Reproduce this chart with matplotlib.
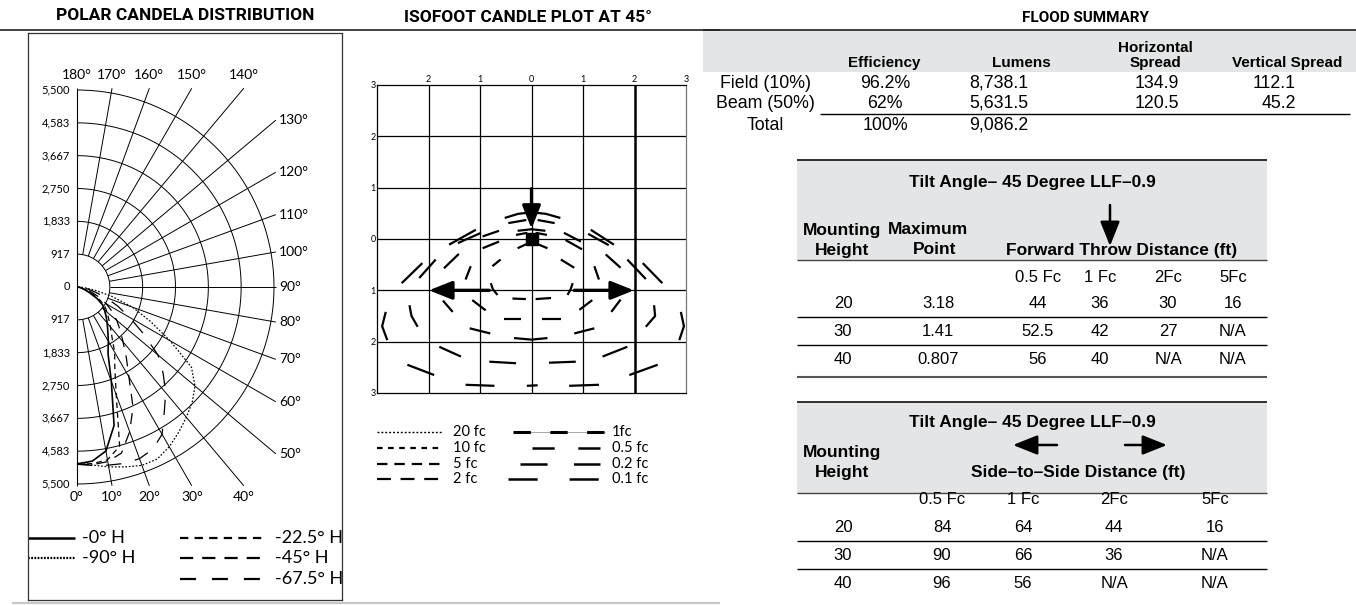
import numpy as np
import matplotlib.pyplot as plt
from matplotlib.patches import Rectangle

plt.rcParams['lines.scale_dashes'] = False
plt.rcParams['lines.solid_capstyle'] = 'butt'
plt.rcParams['lines.dash_capstyle'] = 'butt'

W, H = 1356, 605
LABEL_FONT = ['Lato', 'DejaVu Sans']
TABLE_FONT = ['Liberation Sans', 'DejaVu Sans']
HEAD_FONT = ['Roboto', 'Liberation Sans', 'DejaVu Sans']
GRAY = '#e4e5e6'

# ---------------- data ----------------
# polar candela distribution: vertical angle (deg) -> candela, per horizontal plane
vert_angle = [0, 5, 10, 15, 20, 25, 30, 35, 40, 45, 50, 55, 60, 65, 70, 75, 80, 85, 90]
cd_h0 = [4940, 4880, 4650, 4000, 2800, 2050, 1750, 1500, 1310, 1150, 1000, 880, 650, 400, 250, 150, 80, 40, 20]
cd_h22 = [4950, 4950, 4900, 4600, 3200, 2500, 2100, 1700, 1450, 1250, 1100, 950, 750, 500, 300, 180, 100, 50, 20]
cd_h45 = [4950, 4980, 4950, 4800, 4300, 3700, 2900, 2400, 2000, 1700, 1450, 1200, 950, 700, 450, 280, 150, 70, 30]
cd_h67 = [4950, 5000, 5050, 5100, 5100, 5000, 4750, 4250, 3850, 3400, 2950, 2250, 1700, 1250, 850, 500, 280, 120, 40]
cd_h90 = [4910, 4990, 5100, 5200, 5300, 5300, 5150, 4950, 4750, 4550, 4300, 3900, 3000, 2250, 1650, 1000, 500, 200, 60]
ring_cd = [917, 1833, 2750, 3667, 4583, 5500]
polar_angles = list(range(0, 181, 10))

# isofoot candle plot: pen strokes (x, y in mounting heights)
iso_strokes = [
    ([-0.52, -0.26, 0, 0.28, 0.56], [0.41, 0.49, 0.52, 0.49, 0.41]),
    ([-0.45, -0.1], [0.31, 0.37]), ([0.12, 0.45], [0.37, 0.31]),
    ([-0.27, 0, 0.27], [0.16, 0.19, 0.16]),
    ([-0.3, -0.08], [0.08, 0.12]), ([0.08, 0.3], [0.12, 0.08]),
    ([-0.27, -0.1], [-0.18, -0.1]), ([0.12, 0.31], [-0.1, -0.18]),
    ([-1.6, -1.08], [-0.11, 0.18]), ([-1.43, -0.98], [-0.08, 0.12]),
    ([-0.95, -0.63], [0.05, 0.16]), ([-0.95, -0.63], [-0.18, -0.05]),
    ([0.63, 0.96], [0.12, -0.05]), ([0.66, 0.98], [-0.02, -0.2]),
    ([1.15, 1.6], [0.18, -0.11]), ([1.1, 1.5], [0.1, -0.12]),
    ([-2.52, -2.12], [-0.86, -0.47]), ([-2.18, -1.86], [-0.76, -0.4]),
    ([-1.7, -1.41], [-0.57, -0.29]), ([-1.28, -1.18], [-0.79, -0.53]),
    ([-0.76, -0.6], [-0.53, -0.4]),
    ([0.57, 0.83], [-0.4, -0.56]), ([1.22, 1.31], [-0.53, -0.79]),
    ([1.44, 1.73], [-0.3, -0.56]), ([1.86, 2.22], [-0.4, -0.78]),
    ([2.16, 2.54], [-0.47, -0.86]),
    ([-0.79, -0.75, -0.66], [-0.86, -0.98, -1.09]), ([0.8, 0.76, 0.7], [-0.86, -0.98, -1.09]),
    ([-1.72, -1.53], [-1.2, -1.42]), ([-1.15, -0.89], [-1.19, -1.39]),
    ([0.93, 1.18], [-1.38, -1.19]), ([1.55, 1.73], [-1.42, -1.18]),
    ([-0.37, -0.11], [-1.16, -1.17]), ([0.08, 0.38], [-1.17, -1.15]),
    ([-0.53, -0.21], [-1.56, -1.56]), ([0.21, 0.57], [-1.56, -1.56]),
    ([-1.2, -0.8], [-1.74, -1.84]), ([0.83, 1.22], [-1.84, -1.74]),
    ([-0.34, 0, 0.31], [-1.93, -1.96, -1.93]),
    ([-1.79, -1.37], [-2.1, -2.29]), ([1.38, 1.86], [-2.29, -2.1]),
    ([-0.82, -0.3], [-2.39, -2.42]), ([0.34, 0.86], [-2.41, -2.39]),
    ([-2.41, -1.89], [-2.45, -2.65]), ([1.9, 2.45], [-2.65, -2.45]),
    ([-1.28, -0.72], [-2.84, -2.86]), ([-0.09, 0.12], [-2.86, -2.85]), ([0.73, 1.31], [-2.86, -2.84]),
    ([-2.83, -2.9, -2.8], [-1.42, -1.7, -1.97]), ([-2.37, -2.33, -2.21], [-1.29, -1.5, -1.71]),
    ([2.38, 2.4, 2.22], [-1.29, -1.5, -1.71]), ([2.9, 2.96, 2.87], [-1.42, -1.7, -1.97]),
]
iso_arrows = [((0, 0.98), (0, 0.2)), ((-0.82, -1.0), (-1.99, -1.0)), ((0.83, -1.0), (1.99, -1.0))]
aim_point = (0, 0)
iso_xticks = [-2, -1, 0, 1, 2, 3]
iso_yticks = [-3, -2, -1, 0, 1, 2, 3]
iso_levels_left = ['20 fc', '10 fc', '5 fc', '2 fc']
iso_levels_right = ['1fc', '0.5 fc', '0.2 fc', '0.1 fc']

# flood summary
flood_rows = ['Field (10%)', 'Beam (50%)', 'Total']
flood_eff = [96.2, 62, 100]
flood_lumens = [8738.1, 5631.5, 9086.2]
flood_hspread = [134.9, 120.5, None]
flood_vspread = [112.1, 45.2, None]

# tilt tables
mount_height = [20, 30, 40]
max_point = ['3.18', '1.41', '0.807']
fc_cols = ['0.5 Fc', '1 Fc', '2Fc', '5Fc']
forward_throw = [['44', '36', '30', '16'], ['52.5', '42', '27', 'N/A'], ['56', '40', 'N/A', 'N/A']]
side_to_side = [['84', '64', '44', '16'], ['90', '66', '36', 'N/A'], ['96', '56', 'N/A', 'N/A']]

# ---------------- figure ----------------
fig = plt.figure(figsize=(W / 100, H / 100), dpi=100)
ov = fig.add_axes([0, 0, 1, 1])
ov.set_xlim(0, W)
ov.set_ylim(H, 0)
ov.axis('off')


def box(x0, y0, x1, y1):
    return [x0 / W, 1 - y1 / H, (x1 - x0) / W, (y1 - y0) / H]


# titles and rules
ov.text(185, 16, 'POLAR CANDELA DISTRIBUTION', ha='center', va='center', fontsize=12.5,
        fontweight='bold', family=HEAD_FONT)
ov.text(528, 17, 'ISOFOOT CANDLE PLOT AT 45°', ha='center', va='center', fontsize=12.5,
        fontweight='bold', family=HEAD_FONT)
ov.text(1085, 18, 'FLOOD SUMMARY', ha='center', va='center', fontsize=11,
        fontweight='bold', family=HEAD_FONT)
ov.plot([0, 720], [29.5, 29.5], color='#222', lw=1.2)
ov.plot([12, 720], [603, 603], color='#c8c8c8', lw=1.6)

# ---------------- polar plot ----------------
CX, CY, RPX = 77, 287, 197
S = RPX / 5500.0
REACH = 5550
pax = fig.add_axes(box(28, 33, 342, 600))
pax.set_facecolor('none')
pax.set_xlim(-(CX - 28) / S, (342 - CX) / S)
pax.set_ylim(-(600 - CY) / S, (CY - 33) / S)
pax.set_xticks([])
pax.set_yticks([])
for sp in pax.spines.values():
    sp.set_linewidth(0.9)
    sp.set_color('#333')

t = np.linspace(0, np.pi, 240)
for r in ring_cd:
    pax.plot(r * np.sin(t), -r * np.cos(t), color='k', lw=0.7)
pax.plot([0, 0], [-ring_cd[-1], ring_cd[-1]], color='k', lw=0.8)
for a in polar_angles:
    ar = np.radians(a)
    sx, sy = np.sin(ar), -np.cos(ar)
    reach = REACH / max(abs(sx), abs(sy))
    pax.plot([ring_cd[0] * sx, reach * sx], [ring_cd[0] * sy, reach * sy], color='k', lw=0.7)
    lab = f'{a}°'
    if a >= 140:
        pax.text(reach * sx, 5920, lab, ha='center', va='center', fontsize=10, family=LABEL_FONT)
    elif a >= 50:
        pax.text(REACH + 90, reach * sy, lab, ha='left', va='center', fontsize=10, family=LABEL_FONT)
    else:
        pax.text(reach * sx, -5860, lab, ha='center', va='center', fontsize=10, family=LABEL_FONT)
for r in [0] + ring_cd:
    for sgn in ([1] if r == 0 else [1, -1]):
        pax.text(-7 / S, sgn * r, f'{r:,}', ha='right', va='center', fontsize=8, family=LABEL_FONT)

polar_series = [('-0° H', cd_h0), ('-22.5° H', cd_h22), ('-45° H', cd_h45),
                ('-67.5° H', cd_h67), ('-90° H', cd_h90)]
polar_style = {'-0° H': ('-', 1.2), '-22.5° H': ((0, (4, 3)), 0.9), '-45° H': ((0, (8, 6)), 0.9),
               '-67.5° H': ((0, (11, 10)), 0.9), '-90° H': ((0, (1.2, 1.3)), 0.9)}
va = np.radians(vert_angle)
for name, cd in polar_series:
    ls, lw = polar_style[name]
    cd = np.array(cd, float)
    pax.plot(cd * np.sin(va), -cd * np.cos(va), color='k', ls=ls, lw=lw)

# polar legend
legend_style = {'-0° H': ('-', 1.8), '-22.5° H': ((0, (6, 4.5)), 1.6), '-45° H': ((0, (9.5, 6.5)), 1.6),
                '-67.5° H': ((0, (11.5, 11.5)), 1.6), '-90° H': ((0, (1.3, 1.0)), 1.6)}
legend_pos = {'-0° H': (28, 75, 538), '-90° H': (28, 75, 558), '-22.5° H': (180, 262, 538),
              '-45° H': (180, 262, 558), '-67.5° H': (180, 262, 579)}
for name, _ in polar_series:
    x0, x1, y = legend_pos[name]
    ls, lw = legend_style[name]
    ov.plot([x0, x1], [y, y], color='k', ls=ls, lw=lw)
    ov.text(x1 + 7 + (6 if x0 > 100 else 0), y, name, ha='left', va='center', fontsize=13, family=LABEL_FONT)

# ---------------- isofoot plot ----------------
iax = fig.add_axes(box(377, 85, 686, 393))
iax.set_facecolor('none')
iax.set_xlim(-3, 3)
iax.set_ylim(-3, 3)
iax.set_xticks(iso_xticks)
iax.set_xticklabels([str(abs(v)) for v in iso_xticks])
iax.set_yticks(iso_yticks)
iax.set_yticklabels([str(abs(v)) for v in iso_yticks])
iax.xaxis.tick_top()
iax.tick_params(length=0, labelsize=6.5, pad=1)
for lab in iax.get_xticklabels() + iax.get_yticklabels():
    lab.set_family(LABEL_FONT)
for sp in iax.spines.values():
    sp.set_linewidth(0.9)
iax.spines['right'].set_color('#777')
for v in iso_xticks[:-1]:
    iax.axvline(v, color='k', lw=1.8 if v == 2 else 0.9)
for v in iso_yticks[1:-1]:
    iax.axhline(v, color='k', lw=0.9)
for xs, ys in iso_strokes:
    iax.plot(xs, ys, color='k', lw=1.6)
iax.plot(*aim_point, marker='s', color='k', ms=8)
for start, end in iso_arrows:
    iax.annotate('', xy=end, xytext=start,
                 arrowprops=dict(arrowstyle='-|>,head_length=0.7,head_width=0.28', lw=2.4,
                                 color='k', mutation_scale=20, shrinkA=0, shrinkB=0))

# isofoot legend
iso_left_style = [((0, (1.4, 1.4)), 1.0), ((0, (4, 4)), 1.6), ((0, (7.5, 5)), 1.6), ((0, (10, 7)), 1.6)]
iso_right_span = [(513, 605), (532, 600), (520, 600), (508, 600)]
iso_right_dash = [(12.5, 14), (16, 17), (19.5, 19), (21, 23)]
rows_y = [432, 448, 464, 479]
for lab, (ls, lw), y in zip(iso_levels_left, iso_left_style, rows_y):
    ov.plot([377, 443], [y, y], color='k', ls=ls, lw=lw)
    ov.text(453, y, lab, ha='left', va='center', fontsize=10.5, family=LABEL_FONT)
for i, (lab, (x0, x1), dash, y) in enumerate(zip(iso_levels_right, iso_right_span, iso_right_dash, rows_y)):
    if i == 0:
        ov.plot([x0, x1], [y, y], color='#999', lw=0.6)
    ov.plot([x0, x1], [y, y], color='k', ls=(0, dash), lw=2.2 if i == 0 else 1.8)
    ov.text(612, y, lab, ha='left', va='center', fontsize=10.5, family=LABEL_FONT)

# ---------------- flood summary ----------------
ov.add_patch(Rectangle((703, 29), W - 703, 43, color=GRAY, lw=0, zorder=0))
ov.plot([703, W], [29.5, 29.5], color='#222', lw=1.2)
hdr = dict(ha='center', va='center', fontsize=11, fontweight='bold', family=TABLE_FONT)
ov.text(884, 63, 'Efficiency', **hdr)
ov.text(1021, 63, 'Lumens', **hdr)
ov.text(1155, 48, 'Horizontal', **hdr)
ov.text(1155, 63, 'Spread', **hdr)
ov.text(1287, 63, 'Vertical Spread', **hdr)
cell = dict(va='center', fontsize=12.8, family=TABLE_FONT)
for i, y in enumerate([83, 103, 125]):
    ov.text(765, y, flood_rows[i], ha='center', **cell)
    ov.text(885, y, f'{flood_eff[i]:g}%', ha='center', **cell)
    ov.text(969, y, f'{flood_lumens[i]:,.1f}', ha='left', **cell)
    if flood_hspread[i] is not None:
        ov.text(1157, y, f'{flood_hspread[i]:.1f}', ha='center', **cell)
        ov.text(1296, y, f'{flood_vspread[i]:.1f}', ha='right', **cell)
ov.plot([820, 1350], [113.5, 113.5], color='k', lw=1)

# ---------------- tilt tables ----------------
thdr = dict(ha='center', va='center', fontsize=12.5, fontweight='bold', family=TABLE_FONT)
tcell = dict(ha='center', va='center', fontsize=12, family=TABLE_FONT)
TX0, TX1 = 797, 1267

# forward throw table
ov.add_patch(Rectangle((TX0, 159), TX1 - TX0, 101, color=GRAY, lw=0, zorder=0))
ov.plot([TX0, TX1], [159.5, 159.5], color='#222', lw=1.3)
ov.plot([TX0, TX1], [260, 260], color='#444', lw=1)
ov.text(1032, 183, 'Tilt Angle– 45 Degree LLF–0.9', **thdr)
ov.annotate('', xy=(1110, 246), xytext=(1110, 205),
            arrowprops=dict(arrowstyle='-|>,head_length=0.75,head_width=0.3', lw=1.8, color='k',
                            mutation_scale=20, shrinkA=0, shrinkB=0))
ov.text(842, 230, 'Mounting', **thdr)
ov.text(842, 250, 'Height', **thdr)
ov.text(928, 230, 'Maximum', **thdr)
ov.text(935, 250, 'Point', **thdr)
ov.text(1122, 250, 'Forward Throw Distance (ft)', **thdr)
fw_x = [1038, 1100, 1168, 1233]
for lab, x in zip(fc_cols, fw_x):
    ov.text(x, 278, lab, **tcell)
for i, y in enumerate([303, 331, 360]):
    ov.text(843, y, str(mount_height[i]), **tcell)
    ov.text(938, y, max_point[i], **tcell)
    for v, x in zip(forward_throw[i], fw_x):
        ov.text(x, y, v, **tcell)
for y, c, lw in [(317, 'k', 1), (345, 'k', 1), (377, '#555', 1.5)]:
    ov.plot([TX0, TX1], [y, y], color=c, lw=lw)

# side-to-side table
ov.add_patch(Rectangle((TX0, 401), TX1 - TX0, 92, color=GRAY, lw=0, zorder=0))
ov.plot([TX0, TX1], [401.5, 401.5], color='#222', lw=1.3)
ov.plot([TX0, TX1], [493, 493], color='#444', lw=1)
ov.text(1032, 423, 'Tilt Angle– 45 Degree LLF–0.9', **thdr)
for x_from, x_to in [(1057, 1013), (1125, 1167)]:
    ov.annotate('', xy=(x_to, 445), xytext=(x_from, 445),
                arrowprops=dict(arrowstyle='-|>,head_length=0.75,head_width=0.3', lw=1.8, color='k',
                                mutation_scale=20, shrinkA=0, shrinkB=0))
ov.text(842, 453, 'Mounting', **thdr)
ov.text(842, 472, 'Height', **thdr)
ov.text(1078, 472, 'Side–to–Side Distance (ft)', **thdr)
ss_x = [942, 1023, 1114, 1215]
for lab, x in zip(fc_cols, ss_x):
    ov.text(x, 500, lab, **tcell)
for i, y in enumerate([527, 555, 583]):
    ov.text(843, y, str(mount_height[i]), **tcell)
    for v, x in zip(side_to_side[i], ss_x):
        ov.text(x, y, v, **tcell)
for y in [540.5, 568.5]:
    ov.plot([TX0, TX1], [y, y], color='k', lw=1)

fig.savefig('out.png', dpi=100)
